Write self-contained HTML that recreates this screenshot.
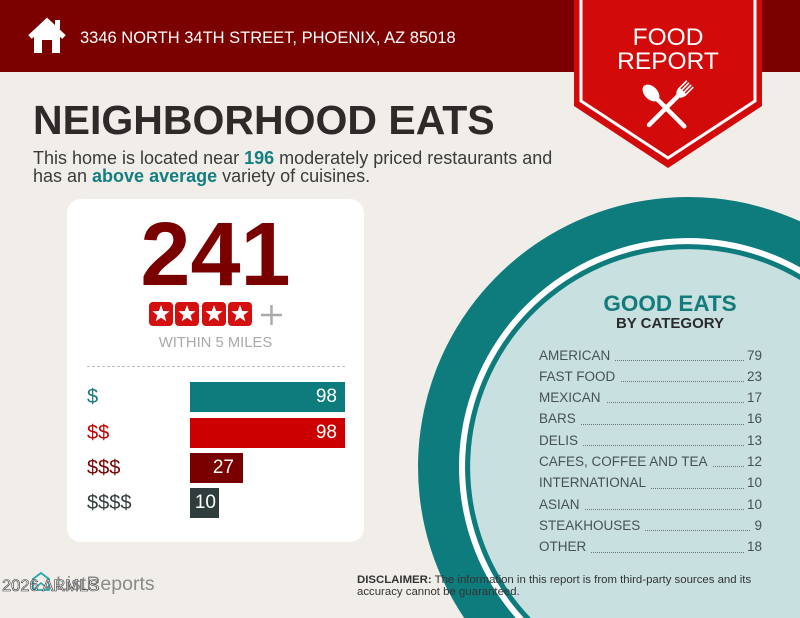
<!DOCTYPE html>
<html>
<head>
<meta charset="utf-8">
<style>
  html{margin:0;padding:0;width:800px;height:618px;overflow:hidden;}
  body{margin:0;padding:0;width:800px;height:618px;position:relative;overflow:hidden;background:#f1ede9;font-family:"Liberation Sans",sans-serif;}
  .abs{position:absolute;white-space:nowrap;}
  .hdr{position:absolute;left:0;top:0;width:800px;height:72px;background:#7b0000;}
  .card{position:absolute;left:67px;top:199px;width:297px;height:343px;background:#fff;border-radius:14px;}
  .bar{position:absolute;left:190px;height:30px;color:#fff;font-size:19px;line-height:30px;text-align:right;box-sizing:border-box;}
  .lbl{position:absolute;left:87px;font-size:20px;line-height:30px;}
  .list{position:absolute;left:539px;top:344.5px;width:223px;font-size:13.5px;color:#465252;}
  .row{position:relative;height:21.33px;line-height:21.33px;display:flex;justify-content:space-between;}
  .row:before{content:"";position:absolute;left:0;right:0;bottom:5px;border-bottom:1.5px dotted #6a7676;}
  .row span{position:relative;background:#c8e0df;}
  .row span.l{padding-right:5px;}
  .row span.n{padding-left:3px;}
</style>
</head>
<body>
<div class="hdr"></div>

<!-- circle (clipped to frame) -->
<svg class="abs" style="left:0;top:0" width="800" height="618" viewBox="0 0 800 618">
  <path d="M464.2,618 A270,270 0 0 1 800,221.3 L800,618 Z" fill="#0e7b7c"/>
  <path d="M515.8,618 A229,229 0 0 1 800,267.3 L800,618 Z" fill="#ffffff"/>
  <path d="M523.9,618 A223,223 0 0 1 800,274.2 L800,618 Z" fill="#0e7b7c"/>
  <path d="M530.8,618 A218,218 0 0 1 800,280 L800,618 Z" fill="#c8e0df"/>
</svg>

<!-- header house icon -->
<svg class="abs" style="left:0;top:0" width="80" height="72" viewBox="0 0 80 72">
  <rect x="55" y="20" width="5" height="9" fill="#fff"/>
  <polyline points="30,37 47,21 64,37" fill="none" stroke="#fff" stroke-width="5" stroke-linejoin="miter"/>
  <polygon points="34,34 47,23 60,34 60,53 34,53" fill="#fff"/>
  <rect x="42" y="40" width="10" height="13" fill="#7b0000"/>
</svg>
<div class="abs" style="left:80px;top:29.6px;font-size:16.5px;line-height:16.5px;color:#fff;">3346 NORTH 34TH STREET, PHOENIX, AZ 85018</div>

<!-- title -->
<div class="abs" style="left:33px;top:99.7px;font-size:41px;line-height:41px;font-weight:bold;color:#2d2a29;">NEIGHBORHOOD EATS</div>
<div class="abs" style="left:33px;top:148.8px;font-size:18px;line-height:18px;color:#3b3b3b;">This home is located near <b style="color:#137f80">196</b> moderately priced restaurants and<br>has an <b style="color:#137f80">above average</b> variety of cuisines.</div>

<!-- card -->
<div class="card"></div>
<div class="abs" style="left:67px;width:297px;top:210px;font-size:90px;line-height:90px;font-weight:bold;color:#7a0000;text-align:center;">241</div>
<svg class="abs" style="left:140px;top:295px" width="150" height="40" viewBox="140 295 150 40">
  <defs>
    <g id="st">
      <rect x="-12" y="-12" width="24" height="24" rx="4" fill="#d40f0f"/>
      <polygon points="0,-9 2.2,-3 8.6,-2.8 3.6,1.2 5.3,7.3 0,3.7 -5.3,7.3 -3.6,1.2 -8.6,-2.8 -2.2,-3" fill="#fff"/>
    </g>
  </defs>
  <use href="#st" x="161" y="314"/>
  <use href="#st" x="187" y="314"/>
  <use href="#st" x="214" y="314"/>
  <use href="#st" x="240" y="314"/>
  <line x1="261" y1="315" x2="282" y2="315" stroke="#aaa" stroke-width="2.5"/>
  <line x1="271.5" y1="305" x2="271.5" y2="325" stroke="#aaa" stroke-width="2.5"/>
</svg>
<div class="abs" style="left:67px;width:297px;top:335.8px;font-size:14.8px;line-height:14.8px;color:#a9a9a9;text-align:center;">WITHIN 5 MILES</div>
<div class="abs" style="left:87px;top:366px;width:258px;border-top:1px dashed #bdbdbd;"></div>

<div class="lbl" style="top:382px;color:#137b7c;">$</div>
<div class="lbl" style="top:418px;color:#c40000;">$$</div>
<div class="lbl" style="top:453px;color:#7a0000;">$$$</div>
<div class="lbl" style="top:488px;color:#333d3d;">$$$$</div>

<div class="bar" style="top:382px;width:155px;background:#0e7b7c;padding-right:8px;">98</div>
<div class="bar" style="top:418px;width:155px;background:#cc0000;padding-right:8px;">98</div>
<div class="bar" style="top:453px;width:53px;background:#7a0000;padding-right:9px;">27</div>
<div class="bar" style="top:488px;width:29px;background:#2f3d3d;padding-right:3px;">10</div>

<!-- good eats -->
<div class="abs" style="left:560px;width:220px;top:293px;font-size:22.5px;line-height:22.5px;font-weight:bold;color:#137b7c;text-align:center;">GOOD EATS</div>
<div class="abs" style="left:560px;width:220px;top:315.7px;font-size:15px;line-height:15px;font-weight:bold;color:#2b2b2b;text-align:center;">BY CATEGORY</div>
<div class="list">
  <div class="row"><span class="l">AMERICAN</span><span class="n">79</span></div>
  <div class="row"><span class="l">FAST FOOD</span><span class="n">23</span></div>
  <div class="row"><span class="l">MEXICAN</span><span class="n">17</span></div>
  <div class="row"><span class="l">BARS</span><span class="n">16</span></div>
  <div class="row"><span class="l">DELIS</span><span class="n">13</span></div>
  <div class="row"><span class="l">CAFES, COFFEE AND TEA</span><span class="n">12</span></div>
  <div class="row"><span class="l">INTERNATIONAL</span><span class="n">10</span></div>
  <div class="row"><span class="l">ASIAN</span><span class="n">10</span></div>
  <div class="row"><span class="l">STEAKHOUSES</span><span class="n">9</span></div>
  <div class="row"><span class="l">OTHER</span><span class="n">18</span></div>
</div>

<!-- disclaimer -->
<div class="abs" style="left:357px;top:573.8px;font-size:11.4px;line-height:12.5px;color:#333;"><b>DISCLAIMER:</b> The information in this report is from third-party sources and its<br>accuracy cannot be guaranteed.</div>

<!-- logo -->
<svg class="abs" style="left:28px;top:570px" width="28" height="26" viewBox="0 0 28 26">
  <polygon points="5,9 13,3 21,9 21,20 5,20" fill="none" stroke="#2aa7a9" stroke-width="1.8"/>
  <polyline points="5,20 13,13 21,20" fill="none" stroke="#2aa7a9" stroke-width="1.5"/>
</svg>
<div class="abs" style="left:56px;top:574.5px;font-size:19.5px;line-height:19.5px;color:#8a8a8a;">ListReports</div>
<div class="abs" style="left:2px;top:578px;font-size:16.5px;line-height:16.5px;color:#fff;-webkit-text-stroke:0.6px #333;">2026 ARMLS</div>

<!-- badge -->
<svg class="abs" style="left:0;top:0" width="800" height="618" viewBox="0 0 800 618">
  <polygon points="574,0 762,0 762,106 668,168 574,106" fill="#d20a0a"/>
  <polyline points="581,0 581,101 668,158 755,101 755,0" fill="none" stroke="#fff" stroke-width="3"/>
  <g transform="rotate(-45 651 93)">
    <ellipse cx="651" cy="93" rx="6.5" ry="10" fill="#fff"/>
    <line x1="651" y1="100" x2="651" y2="140" stroke="#fff" stroke-width="4.5" stroke-linecap="round"/>
  </g>
  <g transform="rotate(45 683 91)">
    <line x1="678.5" y1="81" x2="678.5" y2="93" stroke="#fff" stroke-width="1.6"/>
    <line x1="681.5" y1="81" x2="681.5" y2="93" stroke="#fff" stroke-width="1.6"/>
    <line x1="684.5" y1="81" x2="684.5" y2="93" stroke="#fff" stroke-width="1.6"/>
    <line x1="687.5" y1="81" x2="687.5" y2="93" stroke="#fff" stroke-width="1.6"/>
    <path d="M677.7,91 L688.3,91 Q688,98 683,99 Q678,98 677.7,91 Z" fill="#fff"/>
    <line x1="683" y1="97" x2="683" y2="139" stroke="#fff" stroke-width="4.5" stroke-linecap="round"/>
  </g>
</svg>
<div class="abs" style="left:574px;width:188px;top:25.8px;font-size:24.5px;line-height:24.5px;color:#fff;text-align:center;">FOOD</div>
<div class="abs" style="left:574px;width:188px;top:49.8px;font-size:24.5px;line-height:24.5px;color:#fff;text-align:center;">REPORT</div>
</body>
</html>
